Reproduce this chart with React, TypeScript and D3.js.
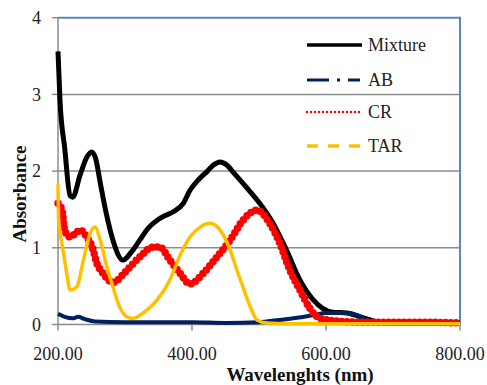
import React from 'react';
import * as d3 from 'd3';

// Mixture spectrum
const mixWl = [200, 203, 210, 218, 222, 233, 243, 250, 256, 263, 272, 282, 297, 310, 322, 335, 348, 360, 372, 387, 397, 410, 422, 432, 442, 452, 461, 481, 501, 521, 541, 561, 581, 595, 610, 631, 651, 666, 680, 700, 750, 800];
const mixAbs = [3.56, 2.92, 2.3, 1.68, 1.66, 1.95, 2.18, 2.25, 2.17, 1.85, 1.45, 1.1, 0.84, 0.95, 1.1, 1.26, 1.36, 1.42, 1.47, 1.58, 1.75, 1.89, 1.99, 2.08, 2.12, 2.08, 1.99, 1.79, 1.58, 1.32, 0.97, 0.58, 0.32, 0.21, 0.16, 0.15, 0.1, 0.06, 0.03, 0.02, 0.02, 0.02];

// AB
const abWl = [200, 210, 222, 230, 240, 255, 300, 350, 400, 450, 500, 530, 560, 580, 600, 630, 650, 660, 670, 700, 800];
const abAbs = [0.14, 0.1, 0.08, 0.1, 0.07, 0.04, 0.03, 0.03, 0.03, 0.02, 0.03, 0.06, 0.09, 0.12, 0.15, 0.15, 0.11, 0.06, 0.03, 0.02, 0.02];

// CR
const crWl = [200, 206, 210, 218, 225, 233, 243, 251, 258, 267, 282, 303, 322, 342, 352, 367, 382, 397, 417, 437, 457, 476, 497, 516, 531, 546, 561, 576, 591, 611, 650, 745, 800];
const crAbs = [1.58, 1.49, 1.23, 1.14, 1.18, 1.23, 1.14, 1.01, 0.8, 0.67, 0.55, 0.71, 0.88, 1.01, 1.01, 0.84, 0.67, 0.53, 0.67, 0.88, 1.1, 1.36, 1.49, 1.32, 1.06, 0.71, 0.45, 0.21, 0.08, 0.05, 0.03, 0.03, 0.02];

// TAR
const tarWl = [200, 201, 207, 213, 218, 228, 237, 248, 255, 263, 273, 282, 292, 303, 312, 327, 348, 367, 382, 397, 412, 427, 442, 457, 467, 476, 487, 497, 512, 540, 800];
const tarAbs = [1.84, 1.36, 1.0, 0.67, 0.45, 0.49, 0.8, 1.19, 1.27, 1.1, 0.75, 0.49, 0.23, 0.1, 0.08, 0.15, 0.32, 0.58, 0.9, 1.14, 1.27, 1.32, 1.23, 0.97, 0.71, 0.49, 0.23, 0.06, 0.02, 0.01, 0.01];

const xTicks = [200, 400, 600, 800];
const yTicks = [0, 1, 2, 3, 4];

const legendNames = ['Mixture', 'AB', 'CR', 'TAR'];

const W = 487;
const H = 385;
const FONT = 'Liberation Serif';

const App = () => {
  const x = d3.scaleLinear().domain([200, 800]).range([58, 460]);
  const y = d3.scaleLinear().domain([0, 4]).range([324.5, 17.7]);

  const makeLine = (wl: number[], ab: number[]) =>
    d3.line<number>()
      .x((d, i) => x(wl[i]))
      .y(d => y(d))
      .curve(d3.curveMonotoneX)(ab) || '';

  const series = [
    { name: 'Mixture', d: makeLine(mixWl, mixAbs), stroke: '#000000', width: 5, dash: undefined, cap: 'butt',
      legendWidth: 3.5, legendDash: undefined, legendCap: 'butt' },
    { name: 'AB', d: makeLine(abWl, abAbs), stroke: '#002060', width: 4, dash: undefined, cap: 'butt',
      legendWidth: 3, legendDash: '22 8 3 8 12', legendCap: 'butt' },
    { name: 'CR', d: makeLine(crWl, crAbs), stroke: '#ff0000', width: 7.5, dash: '0 5.2', cap: 'round',
      legendWidth: 2.5, legendDash: '0 4', legendCap: 'round' },
    { name: 'TAR', d: makeLine(tarWl, tarAbs), stroke: '#ffc000', width: 3.5, dash: undefined, cap: 'butt',
      legendWidth: 3.5, legendDash: '11 10', legendCap: 'butt' },
  ];

  const legendY = [45, 80, 112, 146];

  return (
    <svg width={W} height={H} style={{ position: 'absolute', left: 0, top: 0, background: '#fff' }}>
      {/* gridlines */}
      {yTicks.filter(t => t > 0 && t < 4).map(t => (
        <line key={'g' + t} x1={x(200)} x2={x(800)} y1={y(t)} y2={y(t)} stroke="#8c8c8c" strokeWidth={1.5} />
      ))}
      {/* blue plot border (top, right) */}
      <line x1={x(200)} x2={x(800)} y1={y(4)} y2={y(4)} stroke="#5b87c0" strokeWidth={2} />
      <line x1={x(800)} x2={x(800)} y1={y(4) - 1} y2={y(0)} stroke="#5b87c0" strokeWidth={2} />

      {/* y axis */}
      <line x1={x(200)} x2={x(200)} y1={y(4)} y2={y(0)} stroke="#8c8c8c" strokeWidth={1.5} />
      {yTicks.map(t => (
        <g key={'y' + t}>
          <line x1={x(200) - 6} x2={x(200)} y1={y(t)} y2={y(t)} stroke="#8c8c8c" strokeWidth={1.5} />
          <text x={41} y={y(t)} dy="0.35em" textAnchor="end" fontFamily={FONT} fontSize={18} fill="#222">{t}</text>
        </g>
      ))}

      {/* x axis */}
      <line x1={x(200)} x2={x(800)} y1={y(0)} y2={y(0)} stroke="#8c8c8c" strokeWidth={1.5} />
      {xTicks.map(t => (
        <g key={'x' + t}>
          <line x1={x(t)} x2={x(t)} y1={y(0)} y2={y(0) + 6} stroke="#8c8c8c" strokeWidth={1.5} />
          <text x={x(t)} y={360} textAnchor="middle" fontFamily={FONT} fontSize={18} fill="#222">{t.toFixed(2)}</text>
        </g>
      ))}

      {/* series */}
      {series.map(s => (
        <path key={s.name} d={s.d} fill="none" stroke={s.stroke} strokeWidth={s.width}
          strokeDasharray={s.dash} strokeLinecap={s.cap as any} strokeLinejoin="round" />
      ))}

      {/* legend */}
      {series.map((s, i) => (
        <g key={'l' + s.name}>
          <line x1={307} x2={362} y1={legendY[i]} y2={legendY[i]} stroke={s.stroke} strokeWidth={s.legendWidth}
            strokeDasharray={s.legendDash} strokeLinecap={s.legendCap as any} />
          <text x={368} y={legendY[i]} dy="0.35em" fontFamily={FONT} fontSize={18} fill="#222">{legendNames[i]}</text>
        </g>
      ))}

      {/* axis titles */}
      <text x={300} y={381} textAnchor="middle" fontFamily={FONT} fontSize={19} fontWeight="bold" fill="#111">Wavelenghts (nm)</text>
      <text transform="translate(26,194) rotate(-90)" textAnchor="middle" fontFamily={FONT} fontSize={19} fontWeight="bold" fill="#111">Absorbance</text>
    </svg>
  );
};

export default App;
